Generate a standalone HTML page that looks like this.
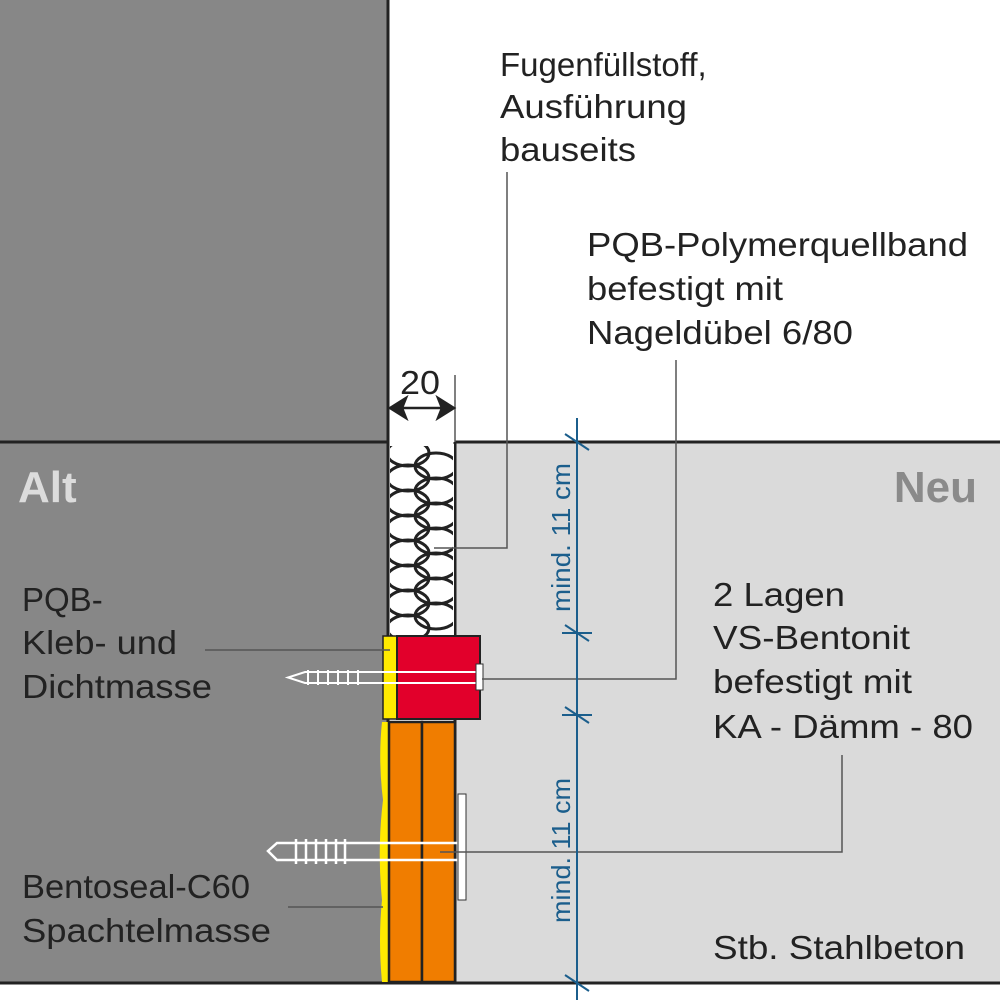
<!DOCTYPE html>
<html><head><meta charset="utf-8"><style>
html,body{margin:0;padding:0;background:#fff}
svg{display:block}
text{font-family:"Liberation Sans",Arial,sans-serif;fill:#222;font-size:33px}
</style></head><body>
<svg width="1000" height="1000" viewBox="0 0 1000 1000" xmlns="http://www.w3.org/2000/svg">
<defs><clipPath id="gap"><rect x="390" y="446" width="63" height="190"/></clipPath></defs>
<rect width="1000" height="1000" fill="#fff"/>
<rect x="0" y="0" width="388" height="983" fill="#878787"/>
<rect x="455" y="442" width="545" height="541" fill="#dadada"/>
<line x1="0" y1="442" x2="388" y2="442" stroke="#222" stroke-width="3"/>
<line x1="455" y1="442" x2="1000" y2="442" stroke="#222" stroke-width="3"/>
<line x1="388" y1="0" x2="388" y2="983" stroke="#222" stroke-width="3"/>
<line x1="455" y1="442" x2="455" y2="983" stroke="#222" stroke-width="3"/>
<line x1="0" y1="983" x2="1000" y2="983" stroke="#222" stroke-width="3"/>
<rect x="390" y="444" width="64" height="192" fill="#fff"/>
<g clip-path="url(#gap)" fill="none" stroke="#222" stroke-width="3">
<ellipse cx="408" cy="453" rx="21" ry="13"/><ellipse cx="436" cy="466" rx="21" ry="13"/>
<ellipse cx="408" cy="478" rx="21" ry="13"/><ellipse cx="436" cy="491" rx="21" ry="13"/>
<ellipse cx="408" cy="503" rx="21" ry="13"/><ellipse cx="436" cy="516" rx="21" ry="13"/>
<ellipse cx="408" cy="528" rx="21" ry="13"/><ellipse cx="436" cy="541" rx="21" ry="13"/>
<ellipse cx="408" cy="553" rx="21" ry="13"/><ellipse cx="436" cy="566" rx="21" ry="13"/>
<ellipse cx="408" cy="578" rx="21" ry="13"/><ellipse cx="436" cy="591" rx="21" ry="13"/>
<ellipse cx="408" cy="603" rx="21" ry="13"/><ellipse cx="436" cy="616" rx="21" ry="13"/>
<ellipse cx="408" cy="628" rx="21" ry="13"/>
</g>
<rect x="383" y="636" width="14" height="83" fill="#ffea00" stroke="#222" stroke-width="1.5"/>
<rect x="397" y="636" width="83" height="83" fill="#e2002b" stroke="#222" stroke-width="2"/>
<path d="M382 722 Q378 760 383 800 Q377 850 382 900 Q378 940 382 982 L389 982 L389 722Z" fill="#ffea00"/>
<rect x="389" y="722" width="33" height="260" fill="#f07d00" stroke="#222" stroke-width="2.5"/>
<rect x="422" y="722" width="33" height="260" fill="#f07d00" stroke="#222" stroke-width="2.5"/>
<g stroke="#fff" stroke-width="2" fill="none">
<path d="M478 672 L305 672 L288 677.5 L305 683 L478 683"/>
<line x1="308" y1="670" x2="308" y2="685"/><line x1="318" y1="670" x2="318" y2="685"/><line x1="328" y1="670" x2="328" y2="685"/><line x1="338" y1="670" x2="338" y2="685"/><line x1="348" y1="670" x2="348" y2="685"/><line x1="358" y1="670" x2="358" y2="685"/>
</g>
<rect x="476" y="664" width="7" height="26" fill="#fff" stroke="#333" stroke-width="1"/>
<g stroke="#fff" stroke-width="2.5" fill="none">
<path d="M459 843 L277 843 L268 851 L277 860 L459 860"/>
<line x1="296" y1="839" x2="296" y2="864"/><line x1="306" y1="839" x2="306" y2="864"/><line x1="316" y1="839" x2="316" y2="864"/><line x1="326" y1="839" x2="326" y2="864"/><line x1="336" y1="839" x2="336" y2="864"/><line x1="345" y1="839" x2="345" y2="864"/>
</g>
<rect x="458" y="794" width="8" height="106" fill="#fff" stroke="#333" stroke-width="1"/>
<g stroke="#555" stroke-width="1.5" fill="none">
<polyline points="507,172 507,548 434,548"/>
<polyline points="676,360 676,679 482,679"/>
<polyline points="842,755 842,852 440,852"/>
<line x1="205" y1="650" x2="390" y2="650"/>
<line x1="288" y1="907" x2="383" y2="907"/>
<line x1="455" y1="375" x2="455" y2="442"/>
</g>
<g stroke="#222" stroke-width="2.5" fill="#222">
<line x1="394" y1="408" x2="450" y2="408"/>
<path d="M390 408 L406 398 L402 408 L406 418Z"/>
<path d="M454 408 L438 398 L442 408 L438 418Z"/>
</g>
<text x="400" y="394" font-size="34" textLength="40" lengthAdjust="spacingAndGlyphs">20</text>
<g stroke="#1b5e8c" stroke-width="2">
<line x1="577" y1="418" x2="577" y2="1000"/>
<line x1="565" y1="434" x2="589" y2="450"/>
<line x1="562" y1="633" x2="592" y2="633"/><line x1="565" y1="625" x2="589" y2="641"/>
<line x1="562" y1="715" x2="592" y2="715"/><line x1="565" y1="707" x2="589" y2="723"/>
<line x1="565" y1="975" x2="589" y2="991"/>
</g>
<text transform="translate(570,612) rotate(-90)" style="fill:#1b5e8c;font-size:26px" textLength="149" lengthAdjust="spacingAndGlyphs">mind. 11 cm</text>
<text transform="translate(570,923) rotate(-90)" style="fill:#1b5e8c;font-size:26px" textLength="145" lengthAdjust="spacingAndGlyphs">mind. 11 cm</text>
<text x="18" y="502" style="font-size:44px;font-weight:bold;fill:#dcdcdc">Alt</text>
<text x="977" y="502" text-anchor="end" style="font-size:44px;font-weight:bold;fill:#8a8a8a">Neu</text>
<text x="500" y="76">Fugenfüllstoff,</text>
<text x="500" y="118" textLength="187" lengthAdjust="spacingAndGlyphs">Ausführung</text>
<text x="500" y="161" textLength="136" lengthAdjust="spacingAndGlyphs">bauseits</text>
<text x="587" y="256" textLength="381" lengthAdjust="spacingAndGlyphs">PQB-Polymerquellband</text>
<text x="587" y="300" textLength="196" lengthAdjust="spacingAndGlyphs">befestigt mit</text>
<text x="587" y="344" textLength="266" lengthAdjust="spacingAndGlyphs">Nageldübel 6/80</text>
<text x="22" y="611">PQB-</text>
<text x="22" y="654" textLength="155" lengthAdjust="spacingAndGlyphs">Kleb- und</text>
<text x="22" y="698" textLength="190" lengthAdjust="spacingAndGlyphs">Dichtmasse</text>
<text x="713" y="606" textLength="132" lengthAdjust="spacingAndGlyphs">2 Lagen</text>
<text x="713" y="649" textLength="197" lengthAdjust="spacingAndGlyphs">VS-Bentonit</text>
<text x="713" y="693" textLength="199" lengthAdjust="spacingAndGlyphs">befestigt mit</text>
<text x="713" y="738" textLength="260" lengthAdjust="spacingAndGlyphs">KA - Dämm - 80</text>
<text x="22" y="898" textLength="228" lengthAdjust="spacingAndGlyphs">Bentoseal-C60</text>
<text x="22" y="942" textLength="249" lengthAdjust="spacingAndGlyphs">Spachtelmasse</text>
<text x="713" y="959" textLength="252" lengthAdjust="spacingAndGlyphs">Stb. Stahlbeton</text>
</svg>
</body></html>
